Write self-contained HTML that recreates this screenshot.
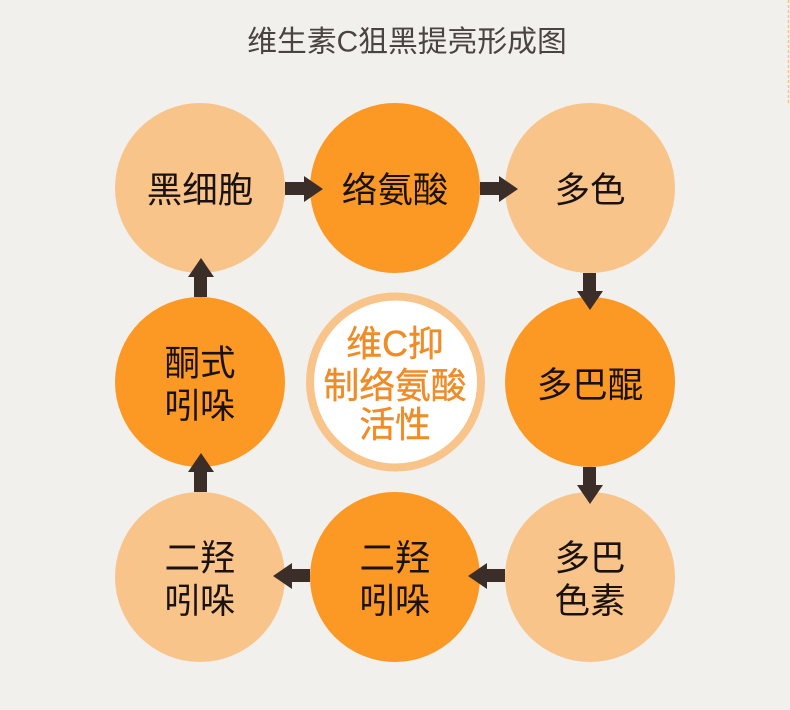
<!DOCTYPE html>
<html lang="zh">
<head>
<meta charset="utf-8">
<title>维生素C狙黑提亮形成图</title>
<style>
html,body{margin:0;padding:0;width:790px;height:710px;overflow:hidden;background:#f1f0ec}
svg{display:block}
text{font-family:"Liberation Sans","Noto Sans CJK SC",sans-serif;text-anchor:middle}
.t{font-size:35.5px;fill:#1a1210}
</style>
</head>
<body>
<svg width="790" height="710" viewBox="0 0 790 710" xmlns="http://www.w3.org/2000/svg">
<rect width="790" height="710" fill="#f1f0ec"/>
<line x1="788.500" y1="0" x2="788.500" y2="105" stroke="#f5c48a" stroke-width="1.500" stroke-dasharray="3 2"/>
<text x="407" y="51.500" font-size="29.800" fill="#4a4340">维生素C狙黑提亮形成图</text>

<circle cx="200" cy="188" r="85" fill="#f8c48a"/>
<circle cx="395" cy="188" r="85" fill="#fc9824"/>
<circle cx="590" cy="188" r="85" fill="#f8c48a"/>
<circle cx="200" cy="382" r="85" fill="#fc9824"/>
<circle cx="590" cy="382" r="85" fill="#fc9824"/>
<circle cx="200" cy="577" r="85" fill="#f8c48a"/>
<circle cx="395" cy="577" r="85" fill="#fc9824"/>
<circle cx="590" cy="577" r="85" fill="#f8c48a"/>
<circle cx="395.500" cy="382" r="85.500" fill="#fff" stroke="#f8c48a" stroke-width="8"/>

<g fill="#3b2d28">
<polygon points="285,182 304,182 304,176 323,189 304,202 304,195 285,195"/>
<polygon points="480,182 499,182 499,176 518,189 499,202 499,195 480,195"/>
<polygon points="583,273 596,273 596,291 603,291 590,310 577,291 583,291"/>
<polygon points="583,467 596,467 596,485 603,485 590,504 577,485 583,485"/>
<polygon points="505,569 505,582 487,582 487,589 468,576 487,563 487,569"/>
<polygon points="310,569 310,582 292,582 292,589 273,576 292,563 292,569"/>
<polygon points="194,492 207,492 207,472 214,472 201,453 188,472 194,472"/>
<polygon points="194,297 207,297 207,277 214,277 201,258 188,277 194,277"/>
</g>

<text class="t" x="200" y="202">黑细胞</text>
<text class="t" x="395" y="202">络氨酸</text>
<text class="t" x="590" y="202">多色</text>
<text class="t" x="590" y="397">多巴醌</text>
<text class="t" x="200" y="375">酮式</text>
<text class="t" x="200" y="418">吲哚</text>
<text class="t" x="590" y="570">多巴</text>
<text class="t" x="590" y="613">色素</text>
<text class="t" x="395" y="570">二羟</text>
<text class="t" x="395" y="613">吲哚</text>
<text class="t" x="200" y="570">二羟</text>
<text class="t" x="200" y="613">吲哚</text>

<g font-size="35.800" fill="#f08c28" stroke="#f08c28" stroke-width="0.400">
<text x="395" y="356">维C抑</text>
<text x="395" y="398">制络氨酸</text>
<text x="395" y="437">活性</text>
</g>
</svg>
</body>
</html>
